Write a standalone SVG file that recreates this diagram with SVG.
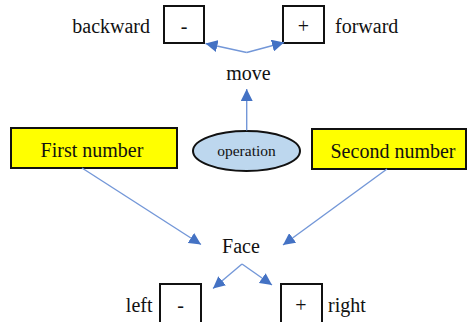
<svg xmlns="http://www.w3.org/2000/svg" width="468" height="322" viewBox="0 0 468 322">
  <style>
    text { font-family: 'Liberation Serif', 'Tinos', 'DejaVu Serif', serif; font-size: 20px; fill: #111; }
    .sm { font-size: 15.5px; }
    .box { fill: #fff; stroke: #111; stroke-width: 2; }
    .ybox { fill: #ffff00; stroke: #111; stroke-width: 2; }
    .edge { fill: none; stroke: #7397d8; stroke-width: 1.4; marker-end: url(#arrow); }
  </style>
  <defs>
    <marker id="arrow" viewBox="0 0 12 12" refX="12" refY="6" markerWidth="12" markerHeight="12" markerUnits="userSpaceOnUse" orient="auto">
      <path d="M0,0 L12,6 L0,12 z" fill="#4472c4"/>
    </marker>
  </defs>
  <rect width="468" height="322" fill="#fff"/>

  <!-- move controls -->
  <g id="backward">
    <text x="150" y="33" text-anchor="end">backward</text>
    <rect class="box" x="164" y="6" width="40" height="37"/>
    <text x="184" y="33" text-anchor="middle">-</text>
  </g>
  <g id="forward">
    <rect class="box" x="283" y="6" width="41" height="37"/>
    <text x="303.5" y="33" text-anchor="middle">+</text>
    <text x="335" y="33">forward</text>
  </g>
  <g id="move">
    <text x="248.5" y="80" text-anchor="middle">move</text>
  </g>

  <!-- inputs and operation -->
  <g id="first-number">
    <rect class="ybox" x="11" y="128" width="166" height="40"/>
    <text x="92" y="157" text-anchor="middle">First number</text>
  </g>
  <g id="operation">
    <ellipse cx="246.5" cy="151" rx="53.5" ry="20" fill="#bdd7ee" stroke="#111" stroke-width="2"/>
    <text class="sm" x="246.5" y="156" text-anchor="middle">operation</text>
  </g>
  <g id="second-number">
    <rect class="ybox" x="312" y="129" width="154" height="40"/>
    <text x="393" y="158" text-anchor="middle">Second number</text>
  </g>

  <!-- face and its directions -->
  <g id="face">
    <text x="241" y="253" text-anchor="middle">Face</text>
  </g>
  <g id="left">
    <text x="152.5" y="312" text-anchor="end">left</text>
    <rect class="box" x="160" y="284" width="41" height="50"/>
    <text x="180.5" y="312" text-anchor="middle">-</text>
  </g>
  <g id="right">
    <rect class="box" x="281" y="284" width="41" height="50"/>
    <text x="301" y="312" text-anchor="middle">+</text>
    <text x="328" y="312">right</text>
  </g>

  <g id="connectors">
    <line class="edge" x1="246.7" y1="52.5" x2="205.5" y2="43.5"/>
    <line class="edge" x1="246.7" y1="52.5" x2="284" y2="42.5"/>
    <line class="edge" x1="246.7" y1="130.5" x2="246.7" y2="89"/>
    <line class="edge" x1="82" y1="168" x2="201" y2="244.5"/>
    <line class="edge" x1="387" y1="169" x2="283" y2="245"/>
    <line class="edge" x1="242" y1="264" x2="213" y2="288.5"/>
    <line class="edge" x1="242" y1="264" x2="272" y2="285"/>
  </g>
</svg>
